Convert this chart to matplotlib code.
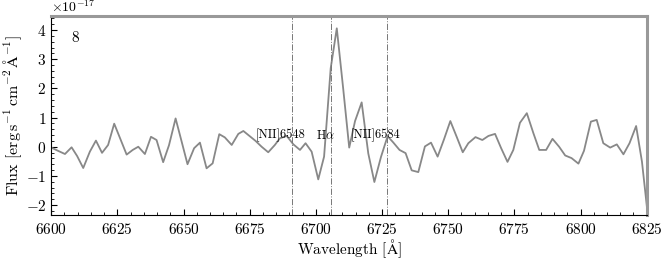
import matplotlib
matplotlib.use("Agg")
import matplotlib.pyplot as plt
import numpy as np

plt.rcParams["font.family"] = "serif"
plt.rcParams["font.serif"] = ["cmr10"]
plt.rcParams["mathtext.fontset"] = "cm"
plt.rcParams["axes.formatter.use_mathtext"] = True
plt.rcParams["axes.unicode_minus"] = True

# wavelength [A] and flux [1e-17 erg/s/cm2/A]
wave = [6600.5, 6602.8, 6605.2, 6607.7, 6609.8, 6612.1, 6614.6, 6616.9, 6619.2, 6621.5,
        6623.8, 6626.2, 6628.5, 6630.8, 6632.9, 6635.4, 6637.7, 6639.8, 6642.3, 6644.5,
        6647.0, 6649.3, 6651.5, 6654.0, 6656.2, 6658.7, 6661.0, 6663.5, 6665.6, 6668.2,
        6670.7, 6672.6, 6674.9, 6677.2, 6679.5, 6682.0, 6684.5, 6686.4, 6689.0, 6691.5,
        6694.0, 6696.1, 6698.4, 6700.9, 6703.1, 6705.6, 6707.9, 6710.3, 6712.6, 6714.8,
        6717.3, 6719.8, 6722.1, 6724.6, 6727.1, 6729.2, 6731.6, 6733.9, 6736.2, 6738.7,
        6741.2, 6743.5, 6746.0, 6748.4, 6750.8, 6753.2, 6755.5, 6757.6, 6760.3, 6762.9,
        6765.2, 6767.7, 6770.0, 6772.4, 6774.6, 6777.1, 6779.7, 6782.2, 6784.4, 6787.0,
        6789.4, 6791.9, 6794.2, 6796.6, 6799.2, 6801.3, 6803.9, 6806.1, 6808.6, 6811.2,
        6813.7, 6816.2, 6818.5, 6821.0, 6823.2, 6825.6]
flux = [-0.05, -0.15, -0.25, -0.02, -0.32, -0.73, -0.17, 0.21, -0.21, 0.06,
        0.79, 0.25, -0.27, -0.11, 0.00, -0.25, 0.34, 0.23, -0.53, 0.05,
        0.97, 0.17, -0.60, -0.05, 0.14, -0.74, -0.57, 0.43, 0.32, 0.06,
        0.44, 0.54, 0.37, 0.20, 0.00, -0.19, 0.06, 0.29, 0.37, 0.08,
        -0.11, 0.12, -0.17, -1.12, -0.34, 2.69, 4.06, 2.01, -0.03, 0.88,
        1.52, -0.23, -1.21, -0.35, 0.36, 0.15, -0.11, -0.22, -0.81, -0.87,
        0.01, 0.14, -0.34, 0.25, 0.88, 0.34, -0.19, 0.12, 0.33, 0.23,
        0.37, 0.44, -0.05, -0.52, -0.11, 0.82, 1.15, 0.46, -0.11, -0.11,
        0.27, 0.00, -0.30, -0.39, -0.58, -0.14, 0.86, 0.92, 0.12, -0.03,
        0.08, -0.26, 0.12, 0.71, -0.51, -2.50]

line_names = ["[NII]6548", r"H$\alpha$", "[NII]6584"]
line_rest = [6548.05, 6562.8, 6583.45]
redshift = 0.02180
label_x = [6686.5, 6703.5, 6722.5]
label_y = [0.40, 0.40, 0.40]
yticks = [-2, -1, 0, 1, 2, 3, 4]

fig = plt.figure(figsize=(6.65, 2.59), dpi=100)
ax = fig.add_axes([0.077, 0.17, 0.8955, 0.768])

ax.plot(wave, np.array(flux) * 1e-17, color="#888888", lw=1.3)

for name, rest, lx, ly in zip(line_names, line_rest, label_x, label_y):
    ax.axvline(rest * (1 + redshift), color="#777777", lw=0.7, ls="-.")
    ax.text(lx, ly * 1e-17, name, ha="center", va="center", fontsize=9)

ax.text(0.04, 0.89, "8", transform=ax.transAxes, ha="center", va="center", fontsize=11)

ax.set_xlim(6600, 6825)
ax.set_ylim(-2.34e-17, 4.48e-17)
ax.set_xticks([6600, 6625, 6650, 6675, 6700, 6725, 6750, 6775, 6800, 6825])
ax.set_yticks(np.array(yticks) * 1e-17)
ax.minorticks_on()
ax.tick_params(which="both", direction="in", labelsize=11)
ax.tick_params(which="major", length=4)
ax.tick_params(which="minor", length=2)
ax.tick_params(axis="x", pad=5)
ax.yaxis.get_offset_text().set_fontsize(10)

for side in ["top", "right"]:
    ax.spines[side].set_color("#999999")
    ax.spines[side].set_linewidth(2.2)

ax.set_xlabel(r"Wavelength [$\mathrm{\AA}$]", fontsize=11, labelpad=0)
ax.set_ylabel(r"Flux [$\mathrm{erg\,s^{-1}\,cm^{-2}\,\AA^{-1}}$]", fontsize=11.5, labelpad=1)

plt.savefig("out.png", dpi=100)
